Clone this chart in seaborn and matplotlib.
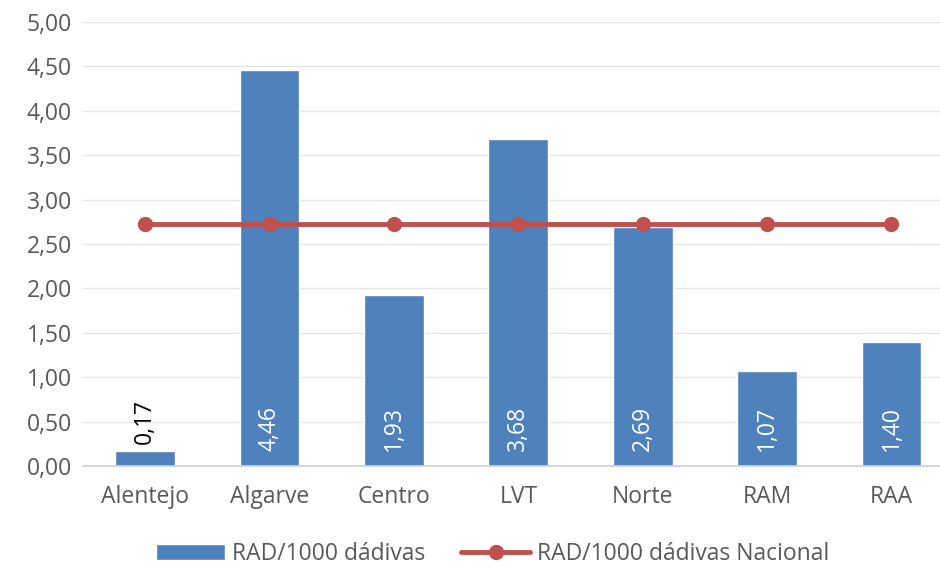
import matplotlib
matplotlib.use('Agg')
import matplotlib.pyplot as plt
import seaborn as sns
import pandas as pd

# valores
regioes = ['Alentejo', 'Algarve', 'Centro', 'LVT', 'Norte', 'RAM', 'RAA']
rad = [0.17, 4.46, 1.93, 3.68, 2.69, 1.07, 1.40]
nacional = [2.73, 2.73, 2.73, 2.73, 2.73, 2.73, 2.73]

df = pd.DataFrame({'regiao': regioes, 'rad': rad, 'nacional': nacional})

sns.set_theme(style='white')
plt.rcParams['font.family'] = ['Open Sans', 'DejaVu Sans']

fig = plt.figure(figsize=(9.4, 5.69), dpi=100)
ax = fig.add_axes([83 / 940, 1 - 466 / 569, 1 - 83 / 940, (466 - 22) / 569])

sns.barplot(data=df, x='regiao', y='rad', color='#4F81BD', saturation=1,
            width=0.48, ax=ax, label='RAD/1000 dádivas', zorder=2)
ax.plot(range(len(regioes)), df['nacional'], color='#C0504D', lw=3.5,
        marker='o', ms=10, label='RAD/1000 dádivas Nacional', zorder=3)

# rótulos dos valores
for i, v in enumerate(rad):
    txt = f'{v:.2f}'.replace('.', ',')
    if v < 0.5:
        ax.text(i, v + 0.08, txt, rotation=90, ha='center', va='bottom',
                fontsize=16.5, color='black')
    else:
        ax.text(i, 0.17, txt, rotation=90, ha='center', va='bottom',
                fontsize=16.5, color='white')

ax.set_ylim(0, 5)
ax.set_xlim(-0.5, 6.39)
ax.set_yticks([i * 0.5 for i in range(11)])
ax.set_yticklabels([f'{i * 0.5:.2f}'.replace('.', ',') for i in range(11)])
ax.yaxis.grid(True, color='#e6e6e6', lw=1)
ax.set_axisbelow(True)
ax.set_xlabel('')
ax.set_ylabel('')
for s in ['top', 'right', 'left']:
    ax.spines[s].set_visible(False)
ax.spines['bottom'].set_color('#d0d0d0')
ax.tick_params(axis='both', labelsize=16.5, colors='#595959', length=0, pad=8)
ax.tick_params(axis='x', pad=14)

h, l = ax.get_legend_handles_labels()
order = [l.index('RAD/1000 dádivas'), l.index('RAD/1000 dádivas Nacional')]
ax.legend([h[i] for i in order], [l[i] for i in order],
          loc='upper center', bbox_to_anchor=(0.478, -0.125), ncol=2,
          frameon=False, fontsize=16.5, labelcolor='#595959',
          handlelength=3.0, columnspacing=1.6, handletextpad=0.3)

fig.savefig('out.png', dpi=100)
